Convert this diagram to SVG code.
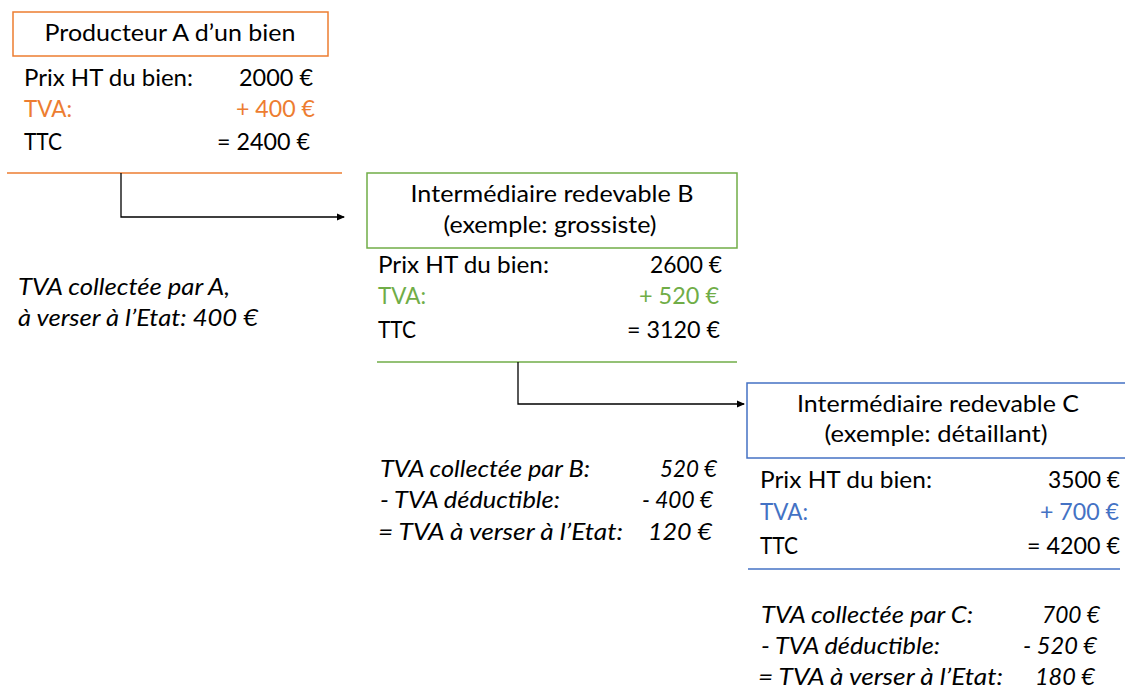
<svg xmlns="http://www.w3.org/2000/svg" width="1125" height="689" viewBox="0 0 1125 689">
<style>
text{font-family:Lato,"Open Sans","Liberation Sans",sans-serif;font-size:22.5px;fill:#000}
.it{font-style:italic}
.e{text-anchor:end}
.m{text-anchor:middle}
.o{fill:#ED7D31}.g{fill:#70AD47}.b{fill:#4472C4}
.conn{fill:none;stroke:#000;stroke-width:1.3}
</style>
<defs>
<marker id="ah" markerWidth="8" markerHeight="8" refX="7" refY="4" orient="auto" markerUnits="userSpaceOnUse">
<path d="M0,0.5 L8,4 L0,7.5 Z" fill="#000"/>
</marker>
</defs>
<rect width="1125" height="689" fill="#fff"/>
<g id="nodeA">
<rect x="13" y="12" width="315" height="44" fill="#fff" stroke="#ED7D31" stroke-width="1.5"/>
<text x="170" y="41" class="m" textLength="251" lengthAdjust="spacingAndGlyphs">Producteur A d’un bien</text>
<text x="24" y="86" textLength="169" lengthAdjust="spacingAndGlyphs">Prix HT du bien:</text>
<text x="313" y="86" class="e" textLength="74" lengthAdjust="spacingAndGlyphs">2000 €</text>
<text x="24" y="117" class="o" textLength="48" lengthAdjust="spacingAndGlyphs">TVA:</text>
<text x="315" y="117" class="e o" textLength="79" lengthAdjust="spacingAndGlyphs">+ 400 €</text>
<text x="24" y="150" textLength="38" lengthAdjust="spacingAndGlyphs">TTC</text>
<text x="310" y="150" class="e" textLength="93" lengthAdjust="spacingAndGlyphs">= 2400 €</text>
<line x1="7" y1="173" x2="342" y2="173" stroke="#ED7D31" stroke-width="1.5"/>
</g>
<g id="noteA">
<text x="18" y="295" class="it" textLength="212" lengthAdjust="spacingAndGlyphs">TVA collectée par A,</text>
<text x="18" y="326" class="it" textLength="240" lengthAdjust="spacingAndGlyphs">à verser à l’Etat: 400 €</text>
</g>
<g id="nodeB">
<rect x="367" y="173" width="370" height="75" fill="#fff" stroke="#70AD47" stroke-width="1.5"/>
<text x="552" y="202" class="m" textLength="283" lengthAdjust="spacingAndGlyphs">Intermédiaire redevable B</text>
<text x="550" y="233" class="m" textLength="213" lengthAdjust="spacingAndGlyphs">(exemple: grossiste)</text>
<text x="378" y="273" textLength="171" lengthAdjust="spacingAndGlyphs">Prix HT du bien:</text>
<text x="722" y="273" class="e" textLength="72" lengthAdjust="spacingAndGlyphs">2600 €</text>
<text x="378" y="304" class="g" textLength="48" lengthAdjust="spacingAndGlyphs">TVA:</text>
<text x="719" y="304" class="e g" textLength="80" lengthAdjust="spacingAndGlyphs">+ 520 €</text>
<text x="378" y="338" textLength="38" lengthAdjust="spacingAndGlyphs">TTC</text>
<text x="720" y="338" class="e" textLength="93" lengthAdjust="spacingAndGlyphs">= 3120 €</text>
<line x1="377" y1="362" x2="737" y2="362" stroke="#70AD47" stroke-width="1.5"/>
</g>
<g id="noteB">
<text x="380" y="477" class="it" textLength="210" lengthAdjust="spacingAndGlyphs">TVA collectée par B:</text>
<text x="717" y="477" class="it e" textLength="57" lengthAdjust="spacingAndGlyphs">520 €</text>
<text x="380" y="508" class="it" textLength="180" lengthAdjust="spacingAndGlyphs">- TVA déductible:</text>
<text x="713" y="508" class="it e" textLength="71" lengthAdjust="spacingAndGlyphs">- 400 €</text>
<text x="378" y="540" class="it" textLength="245" lengthAdjust="spacingAndGlyphs">= TVA à verser à l’Etat:</text>
<text x="712" y="540" class="it e" textLength="64" lengthAdjust="spacingAndGlyphs">120 €</text>
</g>
<g id="nodeC">
<rect x="747" y="383" width="390" height="75" fill="#fff" stroke="#4472C4" stroke-width="1.5"/>
<text x="938" y="412" class="m" textLength="282" lengthAdjust="spacingAndGlyphs">Intermédiaire redevable C</text>
<text x="936" y="442" class="m" textLength="223" lengthAdjust="spacingAndGlyphs">(exemple: détaillant)</text>
<text x="760" y="488" textLength="172" lengthAdjust="spacingAndGlyphs">Prix HT du bien:</text>
<text x="1120" y="488" class="e" textLength="72" lengthAdjust="spacingAndGlyphs">3500 €</text>
<text x="760" y="520" class="b" textLength="48" lengthAdjust="spacingAndGlyphs">TVA:</text>
<text x="1119" y="520" class="e b" textLength="79" lengthAdjust="spacingAndGlyphs">+ 700 €</text>
<text x="760" y="554" textLength="38" lengthAdjust="spacingAndGlyphs">TTC</text>
<text x="1120" y="554" class="e" textLength="93" lengthAdjust="spacingAndGlyphs">= 4200 €</text>
<line x1="748" y1="569" x2="1120" y2="569" stroke="#4472C4" stroke-width="1.5"/>
</g>
<g id="noteC">
<text x="761" y="623" class="it" textLength="212" lengthAdjust="spacingAndGlyphs">TVA collectée par C:</text>
<text x="1100" y="623" class="it e" textLength="58" lengthAdjust="spacingAndGlyphs">700 €</text>
<text x="761" y="654" class="it" textLength="179" lengthAdjust="spacingAndGlyphs">- TVA déductible:</text>
<text x="1097" y="654" class="it e" textLength="74" lengthAdjust="spacingAndGlyphs">- 520 €</text>
<text x="758" y="685" class="it" textLength="245" lengthAdjust="spacingAndGlyphs">= TVA à verser à l’Etat:</text>
<text x="1095" y="685" class="it e" textLength="60" lengthAdjust="spacingAndGlyphs">180 €</text>
</g>
<g id="connectors">
<path class="conn" d="M121,173 V217 H344" marker-end="url(#ah)"/>
<path class="conn" d="M518,362 V404 H744" marker-end="url(#ah)"/>
</g>
</svg>
